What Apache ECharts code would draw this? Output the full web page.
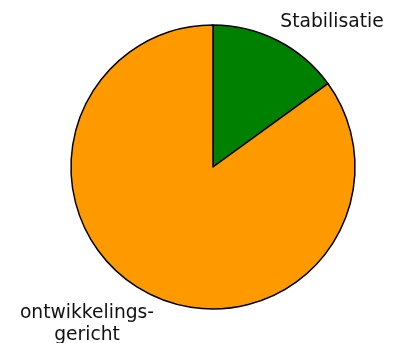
<!DOCTYPE html>
<html>
<head>
<meta charset="utf-8">
<script src="https://cdn.jsdelivr.net/npm/echarts@6/dist/echarts.min.js"></script>
<style>
  html, body { margin: 0; padding: 0; background: #fff; }
  #chart { width: 396px; height: 343px; }
</style>
</head>
<body>
<div id="chart"></div>
<script>
// Share of each category
const categories = ['Stabilisatie', 'ontwikkelings-\ngericht'];
const values = [15, 85];
const colors = ['#008000', '#FF9900'];

// Where each slice's label sits
const labelSpots = [
  { x: 332, y: 22 },
  { x: 87, y: 324 }
];

const chart = echarts.init(document.getElementById('chart'), null, { renderer: 'canvas' });

chart.setOption({
  animation: false,
  series: [{
    type: 'pie',
    center: [213, 167],
    radius: 142,
    startAngle: 90,
    clockwise: true,
    data: categories.map((name, i) => ({
      name: name,
      value: values[i],
      itemStyle: { color: colors[i] }
    })),
    itemStyle: { borderColor: '#000', borderWidth: 1.5 },
    label: {
      show: true,
      position: 'outside',
      formatter: '{b}',
      fontFamily: 'DejaVu Sans',
      fontSize: 18.7,
      lineHeight: 22,
      color: '#111',
      align: 'center',
      overflow: 'none',
      width: 200
    },
    labelLine: { show: false },
    labelLayout: function (params) {
      const spot = labelSpots[params.dataIndex];
      return { x: spot.x, y: spot.y, align: 'center', verticalAlign: 'middle' };
    },
    emphasis: { disabled: true }
  }]
});
</script>
</body>
</html>
